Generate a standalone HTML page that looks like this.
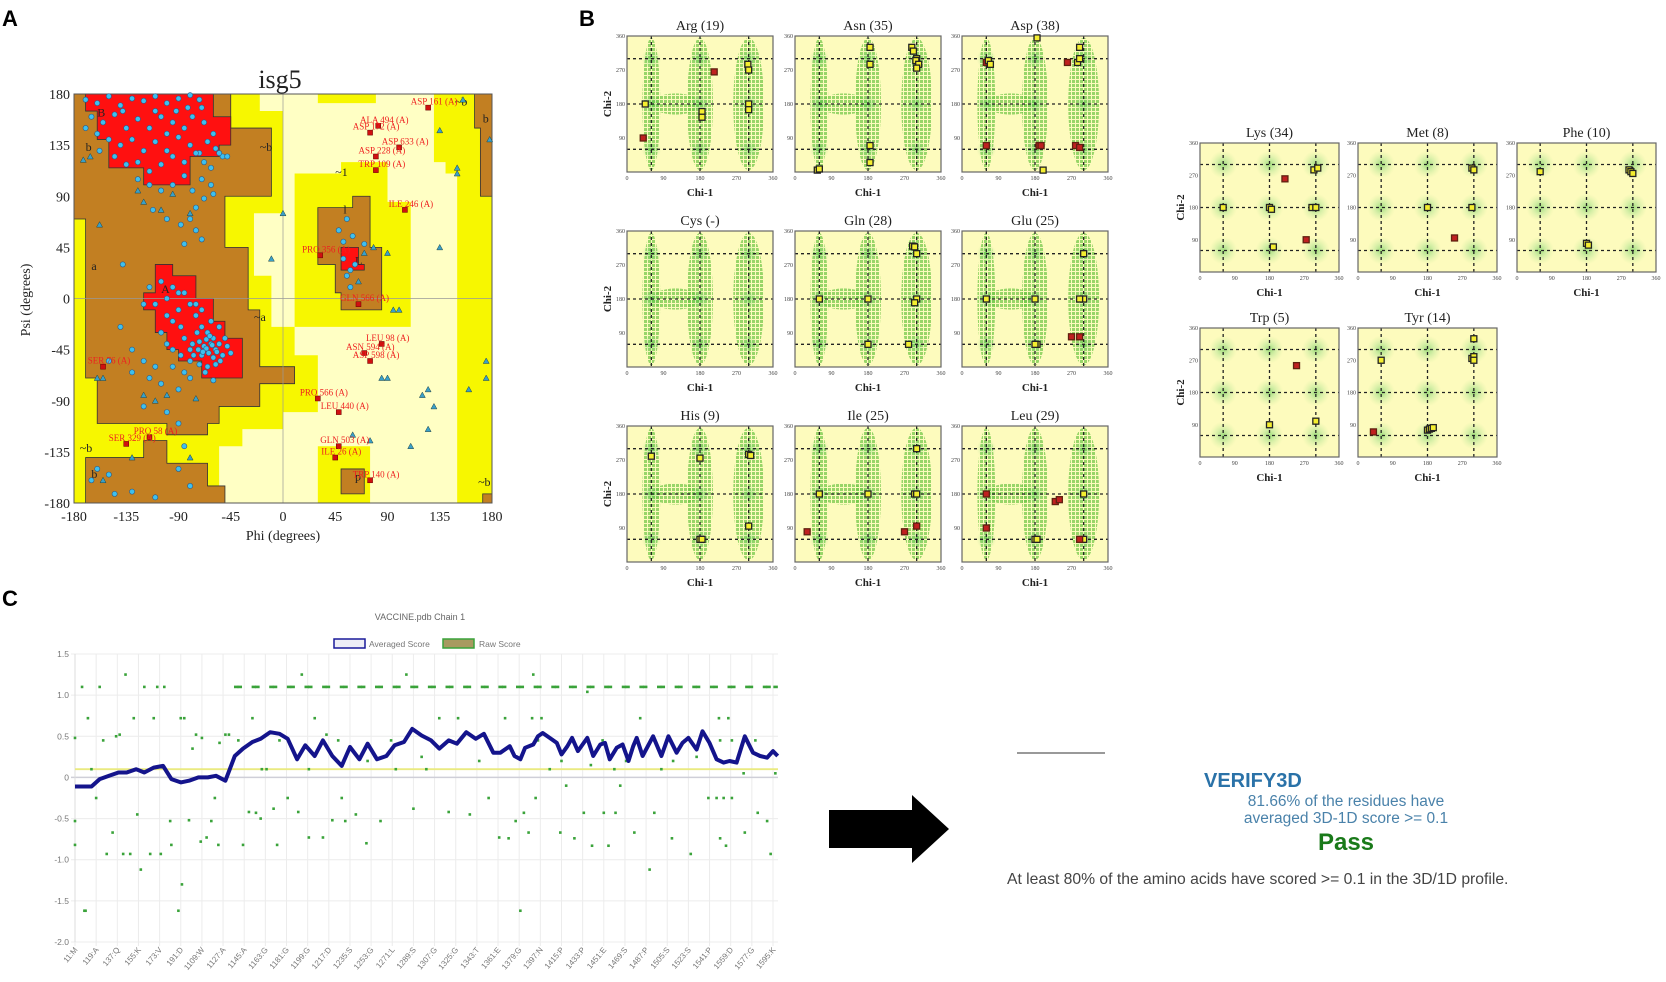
<!DOCTYPE html>
<html><head><meta charset="utf-8"><title>Structure validation figure</title>
<style>
html,body{margin:0;padding:0;background:#fff;}
svg{display:block;}
.ser{font-family:"Liberation Serif",serif;}
.sans{font-family:"Liberation Sans",sans-serif;}
</style></head>
<body>
<svg id="fig" width="1666" height="982" viewBox="0 0 1666 982" xmlns="http://www.w3.org/2000/svg">
<defs>
<pattern id="hatch" width="4" height="4" patternUnits="userSpaceOnUse"><rect x="0" y="0" width="3" height="3" fill="#6cc544"/></pattern>
<radialGradient id="glow"><stop offset="0" stop-color="#2fb82f" stop-opacity="0.85"/><stop offset="0.5" stop-color="#6fd06f" stop-opacity="0.45"/><stop offset="1" stop-color="#9fe07f" stop-opacity="0"/></radialGradient>
</defs>
<text x="2" y="26" class="sans" font-size="22" font-weight="bold">A</text>
<text x="579" y="26" class="sans" font-size="22" font-weight="bold">B</text>
<text x="2" y="606" class="sans" font-size="22" font-weight="bold">C</text>
<g id="gA"></g>
<g id="gB"></g>
<g id="gC"></g>
<g><polygon points="829,810 912,810 912,795 949,829 912,863 912,848 829,848" fill="#000"/></g>
<line x1="1017" y1="753" x2="1105" y2="753" stroke="#999" stroke-width="2"/>
<text x="1204" y="787" class="sans" font-size="20" font-weight="bold" fill="#2a72a8">VERIFY3D</text>
<text x="1346" y="806" class="sans" font-size="15.5" fill="#4a82aa" text-anchor="middle">81.66% of the residues have</text>
<text x="1346" y="823" class="sans" font-size="15.5" fill="#4a82aa" text-anchor="middle">averaged 3D-1D score &gt;= 0.1</text>
<text x="1346" y="850" class="sans" font-size="24" font-weight="bold" fill="#1a7a1a" text-anchor="middle">Pass</text>
<text x="1007" y="884" class="sans" font-size="15.7" fill="#444">At least 80% of the amino acids have scored &gt;= 0.1 in the 3D/1D profile.</text>
</svg>
<script>
var NS='http://www.w3.org/2000/svg';
function mk(parent,tag,attrs,txt){var e=document.createElementNS(NS,tag);for(var k in attrs)e.setAttribute(k,attrs[k]);if(txt!==undefined)e.textContent=txt;parent.appendChild(e);return e;}

/* ================= Panel A : Ramachandran ================= */
var betaPts=[[-170,175],[-160,172],[-150,178],[-140,170],[-130,176],[-120,174],[-110,178],[-100,172],[-90,176],[-80,179],[-72,175],[-165,160],[-155,155],[-145,162],[-135,150],[-125,158],[-115,150],[-105,160],[-95,155],[-85,150],[-78,160],[-68,155],[-160,145],[-150,140],[-140,135],[-130,140],[-120,130],[-110,138],[-100,130],[-90,142],[-80,135],[-72,128],[-65,138],[-58,132],[-52,125],[-145,125],[-135,118],[-125,120],[-115,112],[-105,118],[-95,125],[-85,120],[-75,128],[-68,120],[-62,115],[-125,105],[-115,100],[-105,95],[-95,100],[-85,108],[-78,95],[-70,105],[-62,100],[-55,128],[-48,125],[-110,165],[-92,165],[-82,168],[-70,168],[-60,145],[-100,145],[-138,165],[-170,150],[-158,130],[-68,88],[-75,80],[-80,70],[-88,65],[-100,70],[-112,78],[-75,60],[-85,48],[-60,92],[-70,52],[-138,30],[-150,-55]];
var alphaPts=[[-105,15],[-95,10],[-85,5],[-80,-5],[-100,0],[-90,-10],[-75,-15],[-70,-25],[-65,-30],[-60,-35],[-62,-40],[-68,-42],[-72,-38],[-58,-45],[-55,-40],[-64,-48],[-70,-50],[-60,-52],[-52,-50],[-66,-36],[-74,-30],[-78,-40],[-80,-45],[-85,-35],[-88,-25],[-95,-20],[-100,-15],[-110,-5],[-115,10],[-120,-5],[-70,-10],[-62,-20],[-55,-25],[-50,-35],[-48,-42],[-45,-48],[-58,-58],[-65,-60],[-72,-58],[-80,-55],[-88,-50],[-95,-45],[-100,-40],[-105,-30],[-85,-65],[-95,-60],[-110,-60],[-120,-55],[-130,-45],[-140,-25],[-105,-75],[-115,-70],[-130,-65],[-90,-80],[-80,-70],[-120,-95],[-100,-100],[-90,-110],[-60,-72],[-67,-65],[-75,-5],[-90,5],[-66,-44],[-61,-41],[-63,-33],[-57,-47],[-69,-47],[-73,-45],[-77,-50],[-54,-55],[-160,-150],[-165,-160],[-150,-155],[-90,-150],[-80,-165],[-110,-175],[-130,-170],[-145,-172],[-85,-130],[55,70],[48,60],[52,50],[60,55],[70,48],[62,30],[58,25],[55,20],[52,35],[58,10]];
var glyPts=[[-172,122],[-166,125],[-158,65],[-125,95],[-120,85],[-105,78],[-95,92],[-80,75],[0,75],[-10,35],[65,15],[70,40],[90,40],[78,45],[95,-10],[100,-10],[85,-70],[90,-70],[120,-85],[125,-80],[130,-95],[125,-115],[110,-130],[135,45],[135,148],[150,115],[150,110],[155,175],[175,-55],[175,-70],[160,-80],[178,140],[-155,-70],[-160,-70],[-130,-140],[-155,-160],[75,-125],[60,-120],[-80,-140],[-75,-88],[-100,-85],[-110,-90],[-120,-85]];
var outlierNames=['ASP 161 (A)','ALA 494 (A)','ASP 172 (A)','ASP 633 (A)','ASP 228 (A)','TRP 109 (A)','ILE 246 (A)','PRO 356 (A)','GLN 566 (A)','LEU 98 (A)','ASN 594 (A)','ASP 598 (A)','SER 76 (A)','PRO 566 (A)','LEU 440 (A)','PRO 58 (A)','SER 329 (A)','GLN 503 (A)','ILE 26 (A)','TRP 140 (A)'];
var outlierPhi=[125,82,75,100,80,80,105,32,65,85,70,75,-155,30,48,-115,-135,48,45,75];
var outlierPsi=[168,152,146,133,125,113,78,38,-5,-40,-48,-55,-60,-88,-100,-122,-128,-130,-140,-160];
var ramaTicks=[-180,-135,-90,-45,0,45,90,135,180];
var regYellow=[[[-180,180],[-20,180],[-20,165],[0,165],[0,75],[-25,75],[-25,20],[-10,20],[-10,-25],[10,-25],[10,-50],[30,-50],[30,-100],[0,-100],[0,-115],[-35,-115],[-35,-130],[-55,-130],[-55,-180],[-180,-180]],[[10,110],[50,110],[50,120],[90,120],[90,85],[110,85],[110,-25],[10,-25]],[[30,-130],[75,-130],[75,-180],[30,-180]],[[30,180],[80,180],[80,172],[30,172]],[[130,180],[180,180],[180,-180],[150,-180],[150,110],[140,110],[140,120],[130,120]]];
var regBrown=[[[-180,180],[-45,180],[-45,150],[-10,150],[-10,90],[-50,90],[-50,45],[-30,45],[-30,-10],[-20,-10],[-20,-60],[10,-60],[10,-75],[-20,-75],[-20,-95],[-55,-95],[-55,-110],[-65,-110],[-65,-120],[-100,-120],[-100,-110],[-160,-110],[-160,-70],[-170,-70],[-170,70],[-180,70]],[[-170,-140],[-120,-140],[-120,-125],[-100,-125],[-100,-145],[-65,-145],[-65,-165],[-50,-165],[-50,-180],[-170,-180]],[[30,80],[60,80],[60,90],[75,90],[75,45],[85,45],[85,-10],[50,-10],[50,5],[45,5],[45,30],[30,30]],[[50,-150],[70,-150],[70,-172],[50,-172]],[[165,180],[180,180],[180,90],[170,90],[170,150],[165,150]],[[172,-172],[180,-172],[180,-180],[172,-180]]];
var regRed=[[[-170,180],[-60,180],[-60,160],[-45,160],[-45,135],[-55,135],[-55,125],[-80,125],[-80,100],[-120,100],[-120,115],[-150,115],[-150,140],[-160,140],[-160,165],[-170,165]],[[-110,30],[-95,30],[-95,20],[-75,20],[-75,0],[-60,0],[-60,-20],[-50,-20],[-50,-35],[-35,-35],[-35,-70],[-70,-70],[-70,-55],[-90,-55],[-90,-45],[-100,-45],[-100,-30],[-110,-30],[-110,-10],[-120,-10],[-120,5],[-110,5]],[[50,45],[65,45],[65,30],[70,30],[70,25],[50,25]]];

(function(){
 var g=document.getElementById('gA');
 var L=74,T=94,W=418,H=409;
 function px(p){return L+(p+180)*W/360;}
 function py(s){return T+(180-s)*H/360;}
 var bg=mk(g,'rect',{x:L,y:T,width:W,height:H,fill:'#ffffc4'});
 
 
 function poly(list,fill,stroke,name){list.forEach(function(pts){var s=pts.map(function(p){return px(p[0])+','+py(p[1]);}).join(' ');var e=mk(g,'polygon',{points:s,fill:fill,stroke:stroke,'stroke-width':0.8});
  
  });}
 poly(regYellow,'#f7f700','none','generous-region');
 poly(regBrown,'#c27f22','#333','allowed-region');
 poly(regRed,'#ff1010','#333','favoured-region');
 var a1=mk(g,'line',{x1:px(0),x2:px(0),y1:T,y2:T+H,stroke:'#999','stroke-width':0.7});
 
 
 var a2=mk(g,'line',{x1:L,x2:L+W,y1:py(0),y2:py(0),stroke:'#999','stroke-width':0.7});
 
 
 var fr=mk(g,'rect',{x:L,y:T,width:W,height:H,fill:'none',stroke:'#555','stroke-width':1});
 
 
 [['B',-160,160],['b',-170,130],['a',-165,25],['A',-105,5],['~a',-25,-20],['~b',-20,130],['~1',45,108],['l',52,75],['L',62,30],['p',62,-160],['~b',168,-165],['b',172,155],['~b',148,170],['~b',-175,-135],['b',-165,-158]].forEach(function(r){var t=mk(g,'text',{x:px(r[1]),y:py(r[2]),'font-size':12,'class':'ser',fill:'#222'},r[0]);
  
  });
 alphaPts.concat(betaPts).forEach(function(p){var c=mk(g,'circle',{cx:px(p[0]),cy:py(p[1]),r:2.6,fill:'#3ec0ee',stroke:'#2a5a8a','stroke-width':0.6});
  
  });
 glyPts.forEach(function(p){var x=px(p[0]),y=py(p[1]);var t=mk(g,'polygon',{points:(x)+','+(y-3)+' '+(x-3)+','+(y+2.5)+' '+(x+3)+','+(y+2.5),fill:'#3aa0c8',stroke:'#244','stroke-width':0.5});
  
  });
 outlierNames.forEach(function(n,i){var x=px(outlierPhi[i]),y=py(outlierPsi[i]);
  var r=mk(g,'rect',{x:x-2.5,y:y-2.5,width:5,height:5,fill:'#d01010',stroke:'#600','stroke-width':0.5});
  
  
  var t=mk(g,'text',{x:x+6,y:y-3,'font-size':9,'class':'ser',fill:'#ee2020','text-anchor':'middle'},n);
  
  });
 ramaTicks.forEach(function(v){
  var t=mk(g,'text',{x:px(v),y:T+H+18,'font-size':14,'class':'ser','text-anchor':'middle',fill:'#222'},String(v));
  
  
  var u=mk(g,'text',{x:L-4,y:py(v)+5,'font-size':14,'class':'ser','text-anchor':'end',fill:'#222'},String(v));
  
  });
 var tt=mk(g,'text',{x:280,y:88,'font-size':26,'class':'ser','text-anchor':'middle',fill:'#222'},'isg5');
 
 
 var xl=mk(g,'text',{x:L+W/2,y:540,'font-size':14,'class':'ser','text-anchor':'middle',fill:'#222'},'Phi (degrees)');
 
 
 var yl=mk(g,'text',{x:0,y:0,'font-size':14,'class':'ser','text-anchor':'middle',fill:'#222',transform:'translate(30,300) rotate(-90)'},'Psi (degrees)');
 
 
})();

/* ================= Panel B : rotamer (chi1/chi2) plots ================= */
var rotTitles=['Arg (19)','Asn (35)','Asp (38)','Cys (-)','Gln (28)','Glu (25)','His (9)','Ile (25)','Leu (29)','Lys (34)','Met (8)','Phe (10)','Trp (5)','Tyr (14)'];
var rotPts=[
 [[45,180,0],[185,160,0],[185,145,0],[300,180,0],[300,165,0],[298,285,0],[300,270,0],[40,90,1],[215,265,1]],
 [[55,5,0],[60,8,0],[185,330,0],[185,285,0],[185,70,0],[185,25,0],[288,330,0],[292,320,0],[300,300,0],[298,295,0],[305,285,0],[300,275,0]],
 [[60,290,1],[65,295,0],[70,285,0],[185,355,0],[190,70,1],[195,70,1],[200,5,0],[60,70,1],[260,290,1],[285,290,0],[290,330,0],[290,300,0],[280,70,1],[290,65,1]],
 [],
 [[60,180,0],[180,180,0],[180,60,0],[290,320,0],[295,318,0],[300,180,0],[295,170,0],[280,60,0],[300,300,0]],
 [[60,180,0],[180,180,0],[185,60,0],[180,60,0],[300,300,0],[300,180,0],[290,180,0],[270,80,1],[290,80,1]],
 [[60,280,0],[180,60,0],[185,60,0],[180,275,0],[300,285,0],[305,282,0],[300,95,0]],
 [[60,180,0],[180,180,0],[295,180,0],[300,180,0],[300,300,0],[30,80,1],[270,80,1],[300,95,1]],
 [[60,180,1],[60,90,1],[180,60,0],[185,60,0],[230,160,1],[240,165,1],[300,180,0],[300,60,0],[290,60,1]],
 [[60,180,0],[180,180,0],[185,175,0],[290,180,0],[300,180,0],[295,285,0],[305,290,0],[190,70,0],[220,260,1],[275,90,1]],
 [[180,180,0],[295,180,0],[295,290,0],[300,285,0],[250,95,1]],
 [[60,280,0],[180,80,0],[185,75,0],[290,285,0],[295,280,0],[300,275,0]],
 [[180,90,0],[300,100,0],[250,255,1]],
 [[60,270,0],[300,330,0],[295,275,0],[300,280,0],[300,270,0],[180,75,0],[185,78,0],[190,80,0],[195,82,0],[40,70,1]]
];
var rotTicks=[0,90,180,270,360];

(function(){
 var g=document.getElementById('gB');
 var layouts=[];
 [36,231,426].forEach(function(y){[627,795,962].forEach(function(x){layouts.push([x,y,146,136,1]);});});
 [143,328].forEach(function(y){[1200,1358,1517].forEach(function(x){layouts.push([x,y,139,129,0]);});});
 rotTitles.forEach(function(title,i){
  var lo=layouts[i];var X=lo[0],Y=lo[1],W=lo[2],H=lo[3],hatch=lo[4];
  function sx(c){return X+c/360*W;}
  function sy(c){return Y+H-c/360*H;}
  var sub=mk(g,'g',{});
  
  
  var bg=mk(sub,'rect',{x:X,y:Y,width:W,height:H,fill:'#fdfbbd'});
  
  
  if(hatch){
   [[60,180,22,175],[180,180,32,175],[300,180,38,175],[120,180,60,28]].forEach(function(b){
    var e=mk(sub,'ellipse',{cx:sx(b[0]),cy:sy(b[1]),rx:b[2]/360*W,ry:b[3]/360*H,fill:'url(#hatch)',opacity:0.7});
    
    });
  }
  [[60,60],[60,180],[60,300],[180,60],[180,180],[180,300],[300,60],[300,180],[300,300]].forEach(function(c){
   var e=mk(sub,'circle',{cx:sx(c[0]),cy:sy(c[1]),r:hatch?10:14,fill:'url(#glow)',opacity:0.55});
   
   });
  [60,180,300].forEach(function(v){
   var a=mk(sub,'line',{x1:sx(v),x2:sx(v),y1:Y,y2:Y+H,stroke:'#222','stroke-width':1.3,'stroke-dasharray':'3,3'});
   
   
   var b=mk(sub,'line',{x1:X,x2:X+W,y1:sy(v),y2:sy(v),stroke:'#222','stroke-width':1.3,'stroke-dasharray':'3,3'});
   
   });
  var fr=mk(sub,'rect',{x:X,y:Y,width:W,height:H,fill:'none',stroke:'#666','stroke-width':1.2});
  
  
  rotPts[i].forEach(function(p){
   var r=mk(sub,'rect',{x:sx(p[0])-3,y:sy(p[1])-3,width:6,height:6,fill:p[2]?'#c02020':'#f4ee30',stroke:p[2]?'#602010':'#222','stroke-width':1.3});
   
   });
  rotTicks.forEach(function(v){
   var t=mk(sub,'text',{x:sx(v),y:Y+H+8,'font-size':6,'class':'ser','text-anchor':'middle',fill:'#444'},String(v));
   
   
   if(v>0){var u=mk(sub,'text',{x:X-2,y:sy(v)+2,'font-size':6,'class':'ser','text-anchor':'end',fill:'#444'},String(v));
   
   }});
  var tt=mk(sub,'text',{x:X+W/2,y:Y-6,'font-size':14,'class':'ser','text-anchor':'middle',fill:'#222'},title);
  
  
  var xl=mk(sub,'text',{x:X+W/2,y:Y+H+24,'font-size':11,'class':'ser','text-anchor':'middle',fill:'#222','font-weight':'bold'},'Chi-1');
  
  
  if(i%3===0 && i<9 || i===9 || i===12){
   var yl=mk(sub,'text',{x:0,y:0,'font-size':11,'class':'ser','text-anchor':'middle',fill:'#222','font-weight':'bold',transform:'translate('+(X-16)+','+(Y+H/2)+') rotate(-90)'},'Chi-2');
   
   }
 });
})();

/* ================= Panel C : Verify3D profile ================= */
var avgRes=[1,15,22,30,38,45,53,60,68,76,83,91,98,106,114,121,129,137,144,152,159,167,175,182,190,197,205,212,220,228,235,243,250,258,266,273,281,288,296,304,311,319,326,334,342,349,357,363,371,375,380,384,391,395,399,405,411,415,420,424,429,437,442,448,452,456,462,467,472,476,479,484,493,500,506,513,518,523,530,535,541,547,553,558,564,571,578,584,590,595,599];
var avgVal=[-0.11,-0.11,-0.02,0.02,0.06,0.06,0.1,0.06,0.12,0.14,-0.02,-0.06,-0.04,0,0,0.02,-0.04,0.26,0.35,0.43,0.47,0.55,0.53,0.47,0.22,0.39,0.26,0.45,0.26,0.14,0.37,0.22,0.41,0.22,0.26,0.39,0.43,0.59,0.51,0.45,0.35,0.45,0.41,0.55,0.47,0.53,0.3,0.3,0.38,0.26,0.22,0.36,0.4,0.5,0.54,0.48,0.42,0.28,0.38,0.48,0.32,0.48,0.26,0.4,0.42,0.22,0.36,0.4,0.2,0.38,0.48,0.26,0.5,0.26,0.5,0.3,0.42,0.48,0.34,0.56,0.42,0.22,0.18,0.2,0.18,0.5,0.3,0.26,0.24,0.32,0.26];
var topRes=[138,141,153,156,168,171,183,186,198,201,213,216,228,231,243,246,258,261,273,276,288,291,303,306,318,321,333,336,348,351,363,366,378,381,393,396,408,411,423,426,438,441,453,456,468,471,483,486,498,501,513,516,528,531,543,546,558,561,573,576,588,591,597];
var rawRes=[1,1,1,7,9,10,12,15,19,22,25,28,33,36,39,42,44,48,51,54,57,60,65,68,71,74,77,82,83,89,91,92,94,98,101,104,108,109,113,117,120,123,124,129,132,144,149,152,155,159,164,170,173,182,191,194,200,205,212,215,220,228,231,240,249,261,274,283,289,296,311,319,327,337,353,362,391,437,367,390,398,482,549,557,419,465,540,547,553,560,393,383,451,461,494,582,434,590,376,387,477,571,414,426,509,550,370,441,455,555,593,525,490,380,395,405,415,425,440,450,460,470,480,500,510,520,530,550,560,570,580,597,140,160,175,200,225,250,270,300,320,345];
var rawVal=[-0.53,-0.82,0.48,1.1,-1.62,-1.62,0.72,0.1,-0.25,1.1,0.45,-0.93,-0.67,0.5,0.52,-0.93,1.25,-0.93,0.72,-0.45,-1.12,1.1,-0.93,0.72,1.1,-0.93,1.1,-0.53,-0.82,-1.62,0.72,-1.3,0.72,-0.52,0.35,0.52,-0.78,0.48,-0.73,-0.53,-0.25,-0.82,0.42,0.52,0.52,-0.82,-0.42,0.72,-0.43,-0.5,0.1,-0.38,-0.82,-0.25,-0.42,1.25,-0.73,0.72,-0.73,0.52,-0.52,-0.25,-0.53,-0.45,-0.8,-0.53,0.1,1.25,-0.38,0.25,0.72,-0.42,0.72,-0.45,-0.25,-0.73,1.25,1.04,0.72,0.72,0.72,0.72,0.72,0.72,-0.1,-0.1,-0.25,-0.25,-0.25,-0.25,-0.25,-0.43,-0.43,-0.43,-0.43,-0.43,-0.43,-0.53,-0.53,-0.67,-0.67,-0.67,-0.67,-0.74,-0.74,-0.74,-0.74,-0.83,-0.83,-0.83,-0.93,-0.93,-1.12,-1.62,0.45,0.1,0.2,0.45,0.15,0.45,0.1,0.2,0.45,0.1,0.2,0.45,0.25,0.45,0.45,0.05,0.45,0.05,0.45,0.1,0.45,0.1,0.45,0.2,0.45,0.1,0.45,0.2,0.45];
var yTicks=[1.5,1.0,0.5,0,-0.5,-1.0,-1.5,-2.0];
var yTickText=['1.5','1.0','0.5','0','-0.5','-1.0','-1.5','-2.0'];
var xTickRes=[1,19,37,55,73,91,109,127,145,163,181,199,217,235,253,271,289,307,325,343,361,379,397,415,433,451,469,487,505,523,541,559,577,595];
var xTickText=['11:M','119:A','137:Q','155:K','173:V','191:D','1109:W','1127:A','1145:A','1163:G','1181:G','1199:G','1217:D','1235:S','1253:G','1271:L','1289:S','1307:G','1325:G','1343:T','1361:E','1379:G','1397:N','1415:P','1433:P','1451:E','1469:S','1487:P','1505:S','1523:S','1541:P','1559:D','1577:G','1595:K'];
var threshold=0.1;

(function(){
 var g=document.getElementById('gC');
 var L=75,R=778,y0=654,y1=942;
 function sx(r){return L+(r-1)*698/594;}
 function sy(v){return y0+(1.5-v)*(y1-y0)/3.5;}
 xTickRes.forEach(function(r,i){
  var l=mk(g,'line',{x1:sx(r),x2:sx(r),y1:y0,y2:y1+4,stroke:'#ececec','stroke-width':1});
  
  
  var t=mk(g,'text',{x:0,y:0,'font-size':8,'class':'sans',fill:'#777','text-anchor':'end',transform:'translate('+(sx(r)+3)+','+(y1+8)+') rotate(-50)'},xTickText[i]);
  
  });
 yTicks.forEach(function(v,i){
  var l=mk(g,'line',{x1:L-4,x2:R,y1:sy(v),y2:sy(v),stroke:v===0?'#cfcfd8':'#ececec','stroke-width':v===0?1.5:1});
  
  
  var t=mk(g,'text',{x:L-6,y:sy(v)+3,'font-size':8.5,'class':'sans',fill:'#777','text-anchor':'end'},yTickText[i]);
  
  });
 var ax=mk(g,'line',{x1:L,x2:L,y1:y0,y2:y1,stroke:'#ddd','stroke-width':1});
 
 
 var th=mk(g,'line',{x1:L,x2:R,y1:sy(threshold),y2:sy(threshold),stroke:'#eaea80','stroke-width':1.8});
 
 
 topRes.forEach(function(r){var d=mk(g,'rect',{x:sx(r)-2,y:sy(1.1)-1.3,width:4.5,height:2.6,fill:'#3aa33a'});
  
  });
 rawRes.forEach(function(r,i){var d=mk(g,'rect',{x:sx(r)-1.3,y:sy(rawVal[i])-1.3,width:2.6,height:2.6,fill:'#3aa33a'});
  
  });
 var dstr=avgRes.map(function(r,i){return (i?'L':'M')+sx(r).toFixed(1)+','+sy(avgVal[i]).toFixed(1);}).join(' ');
 var ln=mk(g,'path',{d:dstr,fill:'none',stroke:'#14148c','stroke-width':4,'stroke-linejoin':'round'});
 
 
 var tt=mk(g,'text',{x:420,y:620,'font-size':9,'class':'sans',fill:'#666','text-anchor':'middle'},'VACCINE.pdb Chain 1');
 
 
 var lb1=mk(g,'rect',{x:334,y:639,width:31,height:9,fill:'#eeeef6',stroke:'#1a1a9a','stroke-width':1.5});
 
 
 var lt1=mk(g,'text',{x:369,y:647,'font-size':8.5,'class':'sans',fill:'#777'},'Averaged Score');
 
 
 var lb2=mk(g,'rect',{x:443,y:639,width:31,height:9,fill:'#a89a60',stroke:'#3aa33a','stroke-width':1.5});
 
 
 var lt2=mk(g,'text',{x:479,y:647,'font-size':8.5,'class':'sans',fill:'#777'},'Raw Score');
 
 
})();
</script>
</body></html>
